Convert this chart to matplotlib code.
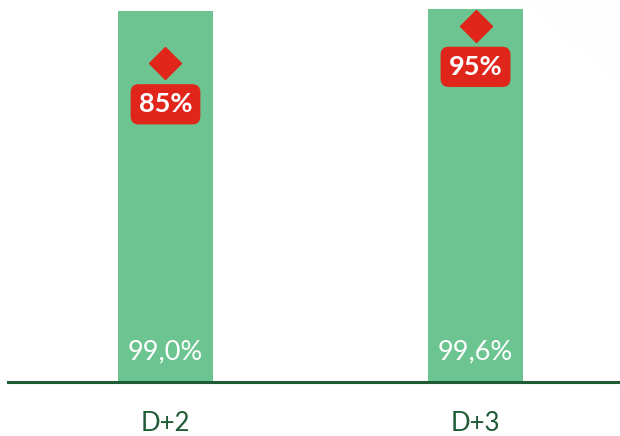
import matplotlib.pyplot as plt
from matplotlib.patches import Polygon

# data
categories = ['D+2', 'D+3']
actual = [99.0, 99.6]
actual_labels = ['99,0%', '99,6%']
targets = [85, 95]
target_labels = ['85%', '95%']

GREEN = '#6cc591'
RED = '#e0251b'
DARK = '#1f5c36'

plt.rcParams['font.family'] = ['Lato', 'DejaVu Sans']

fig = plt.figure(figsize=(6.2, 4.36), dpi=100)
fig.patches.append(Polygon([(523 / 620, 1.0), (1.0, 1.0), (1.0, 1 - 80 / 436)],
                           closed=True, transform=fig.transFigure,
                           facecolor='#fdfdfd', edgecolor='none', zorder=0))

ax = fig.add_axes([8 / 620, 54.3 / 436, 612 / 620, 381.7 / 436])
ax.patch.set_alpha(0)
xs = list(range(len(categories)))

ax.bar(xs, actual, width=0.308, color=GREEN, zorder=2)
ax.plot(xs, targets, linestyle='none', marker='D', markersize=16,
        color=RED, zorder=3)

for x, t, lab in zip(xs, targets, target_labels):
    ax.annotate(lab, (x, t), xytext=(0, -41), textcoords='offset pixels',
                ha='center', va='center', color='white', fontsize=19.5,
                fontweight='bold', zorder=4,
                bbox=dict(boxstyle='round,pad=0.3,rounding_size=0.3',
                          facecolor=RED, edgecolor='none'))

for x, lab in zip(xs, actual_labels):
    ax.annotate(lab, (x, 0), xytext=(0, 30), textcoords='offset pixels',
                ha='center', va='center', color='white', fontsize=19.5,
                zorder=4)

ax.set_xlim(-0.508, 1.466)
ax.set_ylim(0, 101.9)
ax.set_yticks([])
ax.set_xticks(xs)
ax.set_xticklabels(categories, fontsize=18.5, color=DARK)
ax.tick_params(axis='x', length=0, pad=21)
for s in ['left', 'right', 'top']:
    ax.spines[s].set_visible(False)
ax.spines['bottom'].set_color(DARK)
ax.spines['bottom'].set_linewidth(2.2)
ax.spines['bottom'].set_zorder(5)

fig.savefig('out.png', dpi=100)
